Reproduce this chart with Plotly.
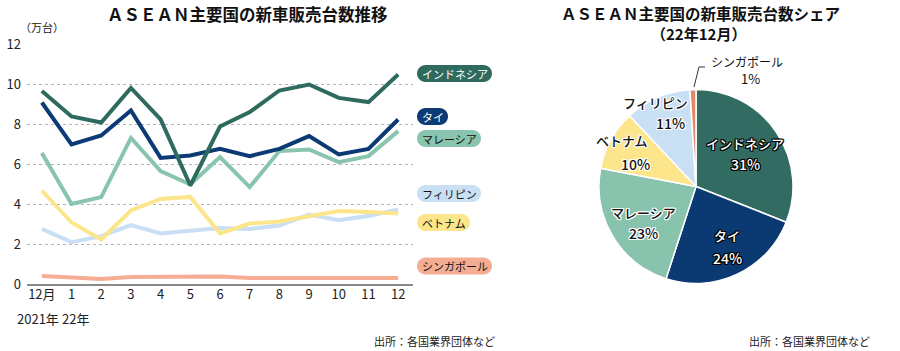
import plotly.graph_objects as go

# ---------------- data ----------------
month_labels = ["12月", "1", "2", "3", "4", "5", "6", "7", "8", "9", "10", "11", "12"]
year_labels = ["2021年", "22年"]          # shown under the first two month ticks
indonesia = [9.67, 8.40, 8.10, 9.83, 8.25, 4.95, 7.90, 8.62, 9.70, 10.00, 9.33, 9.12, 10.50]
thai = [9.10, 7.00, 7.45, 8.70, 6.33, 6.45, 6.78, 6.42, 6.78, 7.42, 6.50, 6.78, 8.25]
malaysia = [6.58, 4.03, 4.37, 7.33, 5.67, 5.00, 6.37, 4.87, 6.67, 6.75, 6.12, 6.42, 7.67]
vietnam = [4.70, 3.10, 2.25, 3.70, 4.28, 4.38, 2.55, 3.05, 3.15, 3.40, 3.67, 3.62, 3.55]
philippines = [2.78, 2.12, 2.42, 2.97, 2.55, 2.67, 2.83, 2.78, 2.95, 3.50, 3.22, 3.42, 3.75]
singapore = [0.42, 0.37, 0.28, 0.38, 0.38, 0.37, 0.40, 0.33, 0.33, 0.33, 0.33, 0.33, 0.33]
y_ticks = [0, 2, 4, 6, 8, 10, 12]

share_names = ["インドネシア", "タイ", "マレーシア", "ベトナム", "フィリピン", "シンガポール"]
share_values = [31, 24, 23, 10, 11, 1]

# ---------------- style ----------------
W, H = 900, 351
FONT = "Liberation Sans Narrow, Noto Sans CJK JP, sans-serif"
JFONT = "Noto Sans CJK JP, sans-serif"
colors = {
    "インドネシア": "#2f6a5f",
    "タイ": "#0b3a74",
    "マレーシア": "#88c4ae",
    "ベトナム": "#fde58b",
    "フィリピン": "#c8dff4",
    "シンガポール": "#f4ad93",
}
pie_colors = ["#316b61", "#0b3a73", "#88c3ae", "#fde58c", "#c9dff4", "#e3896a"]


def px(x):
    return x / W


def py(y):
    return 1 - y / H


fig = go.Figure()

series = [
    ("シンガポール", singapore),
    ("フィリピン", philippines),
    ("ベトナム", vietnam),
    ("マレーシア", malaysia),
    ("タイ", thai),
    ("インドネシア", indonesia),
]
xs = list(range(len(month_labels)))
for name, vals in series:
    fig.add_trace(go.Scatter(
        x=xs, y=vals, mode="lines", name=name,
        line=dict(color=colors[name], width=4),
        showlegend=False, hoverinfo="skip",
    ))

fig.add_trace(go.Pie(
    labels=share_names, values=share_values, sort=False, direction="clockwise",
    rotation=0, textinfo="none", hoverinfo="skip", showlegend=False,
    marker=dict(colors=pie_colors, line=dict(color="white", width=1.5)),
    domain=dict(x=[px(599), px(793)], y=[py(284), py(89)]),
))

fig.update_layout(
    width=W, height=H,
    margin=dict(l=0, r=0, t=0, b=0),
    paper_bgcolor="white", plot_bgcolor="white",
    font=dict(family=FONT, color="#222", size=12),
    xaxis=dict(
        domain=[px(27), px(413)], range=[-0.5, 12.5], automargin=False,
        tickvals=xs, ticktext=month_labels, showgrid=False, zeroline=False,
        showline=False, ticks="", tickangle=0, tickfont=dict(size=13, family=FONT),
        fixedrange=True,
    ),
    yaxis=dict(
        domain=[py(284.5), py(44.5)], range=[0, 12], automargin=False,
        tickvals=y_ticks, showgrid=True, gridcolor="#b5b5b5", griddash="dot",
        gridwidth=1, zeroline=True, zerolinecolor="#8a8a8a", zerolinewidth=1.5,
        ticks="", tickfont=dict(size=13, family=FONT), ticklabelstandoff=5,
        fixedrange=True,
    ),
)

annotations = []
shapes = []

# year labels under the first two ticks
for i, yl in enumerate(year_labels):
    annotations.append(dict(text=yl, x=xs[i], y=py(318), xref="x", yref="paper",
                            xshift=(-4 if i == 0 else 4), showarrow=False,
                            xanchor="center", yanchor="middle",
                            font=dict(size=13, family=FONT, color="#222")))

# titles
annotations.append(dict(text="<b>ＡＳＥＡＮ主要国の新車販売台数推移</b>", x=px(247), y=py(14),
                        xref="paper", yref="paper", showarrow=False, xanchor="center",
                        yanchor="middle", font=dict(size=16.5, family=JFONT, color="#111")))
annotations.append(dict(text="<b>ＡＳＥＡＮ主要国の新車販売台数シェア</b>", x=px(700), y=py(13),
                        xref="paper", yref="paper", showarrow=False, xanchor="center",
                        yanchor="middle", font=dict(size=15.5, family=JFONT, color="#111")))
annotations.append(dict(text="<b>（22年12月）</b>", x=px(698), y=py(33),
                        xref="paper", yref="paper", showarrow=False, xanchor="center",
                        yanchor="middle", font=dict(size=15, family=JFONT, color="#111")))
annotations.append(dict(text="（万台）", x=px(18), y=py(27), xref="paper", yref="paper",
                        showarrow=False, xanchor="left", yanchor="middle",
                        font=dict(size=11, family=JFONT, color="#222")))
for xr in (497, 872):
    annotations.append(dict(text="出所：各国業界団体など", x=px(xr), y=py(341), xref="paper",
                            yref="paper", showarrow=False, xanchor="right", yanchor="middle",
                            font=dict(size=11, family=JFONT, color="#222")))

# pill labels for the line chart
pill_y = {"インドネシア": 73.5, "タイ": 116.5, "マレーシア": 138.5,
          "フィリピン": 193.5, "ベトナム": 222.5, "シンガポール": 266}
dark = {"インドネシア", "タイ"}


def pill_path(x0, yc, w, h):
    r = h / 2
    k = 0.5523 * r
    pts = [
        ("M", [(x0 + r, yc - r)]),
        ("L", [(x0 + w - r, yc - r)]),
        ("C", [(x0 + w - r + k, yc - r), (x0 + w, yc - k), (x0 + w, yc)]),
        ("C", [(x0 + w, yc + k), (x0 + w - r + k, yc + r), (x0 + w - r, yc + r)]),
        ("L", [(x0 + r, yc + r)]),
        ("C", [(x0 + r - k, yc + r), (x0, yc + k), (x0, yc)]),
        ("C", [(x0, yc - k), (x0 + r - k, yc - r), (x0 + r, yc - r)]),
    ]
    s = ""
    for cmd, ps in pts:
        s += cmd + " " + " ".join(f"{px(a):.5f},{py(b):.5f}" for a, b in ps) + " "
    return s + "Z"


for name, _ in series:
    yc = pill_y[name]
    w = len(name) * 11 + 9
    x0 = 417
    shapes.append(dict(type="path", xref="paper", yref="paper", path=pill_path(x0, yc, w, 17),
                       fillcolor=colors[name], line=dict(width=0), layer="above"))
    annotations.append(dict(text=name, x=px(x0 + w / 2), y=py(yc), xref="paper", yref="paper",
                            showarrow=False, xanchor="center", yanchor="middle",
                            font=dict(size=11, family=JFONT,
                                      color="white" if name in dark else "#111")))

# pie labels
pie_label_pos = {
    "インドネシア": ((745, 143), (745, 164)),
    "タイ": ((727, 235), (727, 258)),
    "マレーシア": ((643, 212), (643, 233)),
    "ベトナム": ((622, 140), (635, 164)),
    "フィリピン": ((655, 102), (670, 123)),
    "シンガポール": ((747, 62), (750, 79)),
}
outline_dark = "1px 0 0 #000, -1px 0 0 #000, 0 1px 0 #000, 0 -1px 0 #000, 1px 1px 0 #000, -1px -1px 0 #000, 1px -1px 0 #000, -1px 1px 0 #000"
outline_light = "1px 0 0 #fff, -1px 0 0 #fff, 0 1px 0 #fff, 0 -1px 0 #fff, 1px 1px 0 #fff, -1px -1px 0 #fff, 1px -1px 0 #fff, -1px 1px 0 #fff"
for name, val in zip(share_names, share_values):
    (nx, ny), (vx, vy) = pie_label_pos[name]
    if name == "シンガポール":
        f = dict(size=12, family=JFONT, color="#111")
    elif name in dark:
        f = dict(size=13, family=JFONT, color="white", shadow=outline_dark, weight=500)
    else:
        f = dict(size=13, family=JFONT, color="#111", shadow=outline_light, weight=500)
    annotations.append(dict(text=name, x=px(nx), y=py(ny), xref="paper", yref="paper",
                            showarrow=False, xanchor="center", yanchor="middle", font=f))
    f2 = dict(f)
    f2["family"] = FONT
    f2["size"] = f["size"] + 1
    annotations.append(dict(text=f"{val}%", x=px(vx), y=py(vy), xref="paper", yref="paper",
                            showarrow=False, xanchor="center", yanchor="middle", font=f2))

# leader line for Singapore
lead = [(694, 87), (699, 67), (705, 67)]
shapes.append(dict(type="path", xref="paper", yref="paper",
                   path="M " + " L ".join(f"{px(a):.5f},{py(b):.5f}" for a, b in lead),
                   line=dict(color="#333", width=1)))

fig.update_layout(annotations=annotations, shapes=shapes)

fig.write_html("out.html")
